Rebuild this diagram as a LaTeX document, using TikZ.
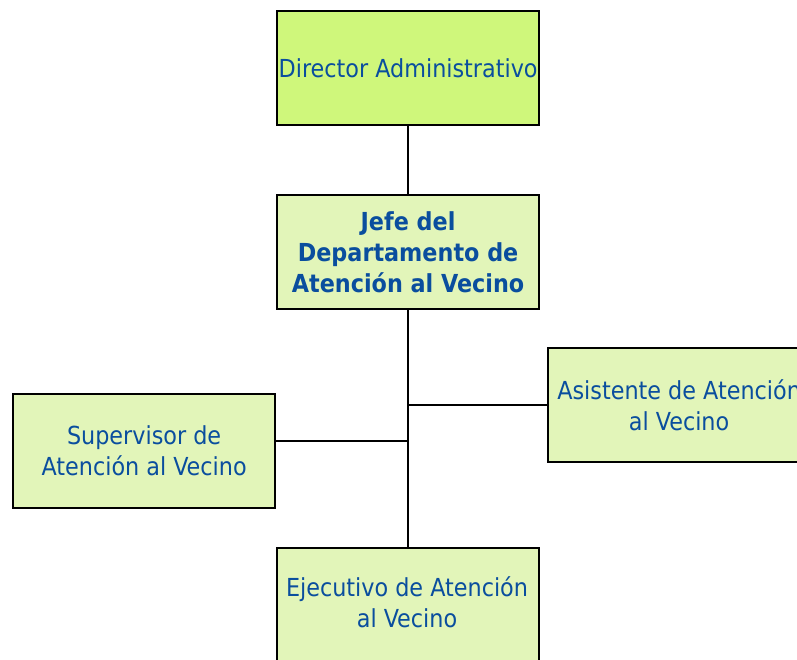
\documentclass[tikz,border=0pt]{standalone}
\usepackage{fontspec}
\setmainfont{DejaVu Sans Condensed}
\definecolor{txtblue}{HTML}{0A4E9E}
\definecolor{limeA}{HTML}{CFF77B}
\definecolor{limeB}{HTML}{E2F5B9}
\tikzset{
  box/.style={draw=black, line width=2.2pt, minimum width=262pt, minimum height=114pt,
    inner sep=0pt, align=center, text=txtblue, font=\fontsize{24.8}{31}\selectfont, anchor=north west},
  link/.style={draw=black, line width=2.2pt}
}
\begin{document}
\begin{tikzpicture}[x=1pt,y=-1pt]
\useasboundingbox (0,0) rectangle (797,660);
\clip (0,0) rectangle (797,660);
\node[box, fill=limeA] (dir) at (276,10) {Director Administrativo};
\node[box, fill=limeB, font=\fontsize{24.8}{31}\selectfont\bfseries] (jefe) at (276,194) {Jefe del\\Departamento de\\Atención al Vecino};
\node[box, fill=limeB] (asis) at (547,347) {Asistente de Atención\\al Vecino};
\node[box, fill=limeB] (sup) at (12,393) {Supervisor de\\Atención al Vecino};
\node[box, fill=limeB] (eje) at (276,547) {};
\node[text=txtblue, font=\fontsize{24.8}{31}\selectfont, align=center] (ejet) at (407,602) {Ejecutivo de Atención\\al Vecino};
\draw[link] (dir.south) -- (jefe.north);
\draw[link] (jefe.south) -- (eje.north);
\coordinate (se) at ([yshift=10pt]sup.east);
\coordinate (ja) at (jefe.south |- asis.west);
\coordinate (js) at (jefe.south |- se);
\draw[link] (ja) -- (asis.west);
\draw[link] (js) -- (se);
\end{tikzpicture}
\end{document}
